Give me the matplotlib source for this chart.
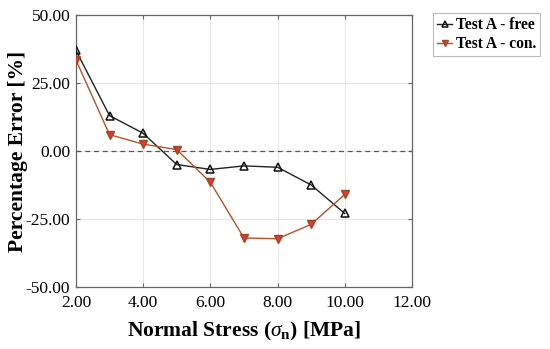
import matplotlib
matplotlib.use("Agg")
import matplotlib.pyplot as plt

stress = [2, 3, 4, 5, 6, 7, 8, 9, 10]
free = [37.0, 13.0, 6.5, -5.0, -6.8, -5.5, -6.0, -12.5, -23.0]
con = [33.5, 6.0, 2.5, 0.5, -11.5, -32.0, -32.3, -27.0, -16.0]
xticks = [2, 4, 6, 8, 10, 12]
yticks = [-50, -25, 0, 25, 50]

plt.rcParams['font.family'] = ['Liberation Serif', 'DejaVu Serif']
plt.rcParams['mathtext.fontset'] = 'custom'
plt.rcParams['mathtext.it'] = 'Liberation Serif:italic'
plt.rcParams['mathtext.bf'] = 'Liberation Serif:bold'
plt.rcParams['mathtext.rm'] = 'Liberation Serif'

fig = plt.figure(figsize=(5.5, 3.49), dpi=100)
ax = fig.add_axes([0.138, 0.178, 0.611, 0.779])

ax.axhline(0, color='#555555', linestyle='--', linewidth=0.9, dashes=(4, 3), zorder=1)
ax.plot(stress, free, color='#222222', linewidth=1.0, marker='^', markersize=6,
        markerfacecolor='none', markeredgecolor='#111111', markeredgewidth=1.1,
        label='Test A - free', zorder=3)
ax.plot(stress, con, color='#b4532a', linewidth=1.0, marker='v', markersize=6,
        markerfacecolor='#e8343a', markeredgecolor='#9a4a22', markeredgewidth=1.0,
        label='Test A - con.', zorder=3)

ax.set_xlim(2, 12)
ax.set_ylim(-50, 50)
ax.set_xticks(xticks)
ax.set_yticks(yticks)
ax.set_xticklabels([f"{v:.2f}" for v in xticks], fontsize=12.5)
ax.set_yticklabels([f"{v:.2f}" for v in yticks], fontsize=12.5)
ax.grid(True, color='#e6e6e6', linewidth=0.7)
ax.set_axisbelow(True)
ax.tick_params(direction='in', length=3, color='#666666', top=True, right=True)
ax.tick_params(axis='x', pad=6)
ax.tick_params(axis='y', pad=4)
for s in ax.spines.values():
    s.set_color('#666666')
    s.set_linewidth(0.9)

ax.set_xlabel(r'Normal Stress ($\sigma_{\mathbf{n}}$) [MPa]', fontsize=15.5, fontweight='bold', labelpad=6)
ax.set_ylabel('Percentage Error [%]', fontsize=15.5, fontweight='bold', labelpad=-2)

leg = fig.legend(loc='upper left', bbox_to_anchor=(0.787, 0.962),
                 prop={'weight': 'bold', 'size': 11.2}, frameon=True, fancybox=False,
                 handlelength=1.0, handletextpad=0.25, borderpad=0.25, labelspacing=0.2,
                 borderaxespad=0, markerscale=0.7)
leg.get_frame().set_edgecolor('#aaaaaa')
leg.get_frame().set_linewidth(0.8)

fig.savefig('out.png', dpi=100)
